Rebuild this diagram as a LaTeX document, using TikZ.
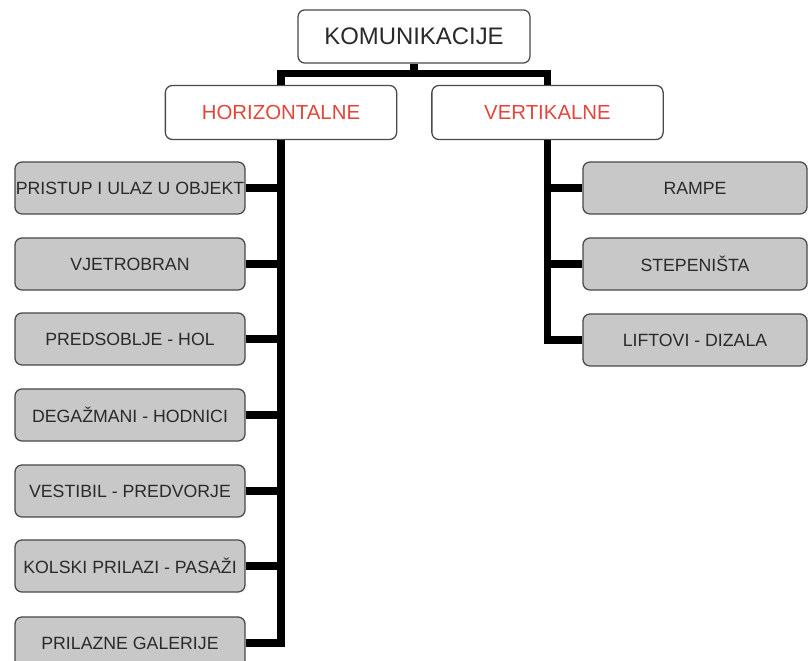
\documentclass[tikz,border=0pt]{standalone}
\usepackage{fontspec}
\setsansfont{Liberation Sans}
\usepackage{tikz}
\usetikzlibrary{calc,positioning}
\usepackage{xcolor}
\definecolor{KomText}{HTML}{2A2A2A}
\definecolor{KomBorder}{HTML}{4A4A4A}
\definecolor{KomFill}{HTML}{C8C8C8}
\definecolor{KomRed}{HTML}{E2463C}

\begin{document}
\begin{tikzpicture}[
  x=0.025cm,y=-0.025cm,font=\sffamily,
  conn/.style={draw=black,line width=5pt,line join=miter},
  box/.style={draw=KomBorder,line width=0.9pt,rounded corners=5pt,
    inner xsep=0pt,inner ysep=2pt,align=center,text=KomText,
    minimum height=1.3cm},
  root/.style={box,fill=white,minimum width=5.8cm,minimum height=1.33cm,
    font=\sffamily\fontsize{17}{19}\selectfont},
  group/.style={box,fill=white,minimum width=5.78cm,minimum height=1.35cm,
    text=KomRed,font=\sffamily\fontsize{14.5}{16}\selectfont},
  item/.style={box,fill=KomFill,minimum width=5.75cm,
    font=\sffamily\fontsize{12.6}{14}\selectfont}
]
\useasboundingbox (0,0) rectangle (809,661);

% top level and the two groups
\node[root] (kom) at (414,36.5) {KOMUNIKACIJE};
\node[group] (horiz) at (281,112.5) {HORIZONTALNE};
\node[group] (vert) at (547.5,112.5) {VERTIKALNE};

\draw[conn] (kom.south) -- ++(0,10) coordinate (bar);
\draw[conn] (horiz.north) |- (bar) -| (vert.north);

% horizontal communications
\node[item] (h1) at (130,188) {PRISTUP I ULAZ U OBJEKT};
\node[item] (h2) at (130,264) {VJETROBRAN};
\node[item] (h3) at (130,339) {PREDSOBLJE - HOL};
\node[item] (h4) at (130,415) {DEGAŽMANI - HODNICI};
\node[item] (h5) at (130,491) {VESTIBIL - PREDVORJE};
\node[item] (h6) at (130,566) {KOLSKI PRILAZI - PASAŽI};
\node[item] (h7) at (130,643) {PRILAZNE GALERIJE};

\draw[conn] (horiz.south) |- (h7.east);
\foreach \n in {h1,h2,h3,h4,h5,h6}
  \draw[conn] (\n.east) -- (\n.east -| horiz.south);

% vertical communications
\node[item,minimum width=5.6cm] (v1) at (695,188) {RAMPE};
\node[item,minimum width=5.6cm] (v2) at (695,264) {STEPENIŠTA};
\node[item,minimum width=5.6cm] (v3) at (695,340) {LIFTOVI - DIZALA};

\draw[conn] (vert.south) |- (v3.west);
\foreach \n in {v1,v2}
  \draw[conn] (\n.west) -- (\n.west -| vert.south);

\end{tikzpicture}
\end{document}
